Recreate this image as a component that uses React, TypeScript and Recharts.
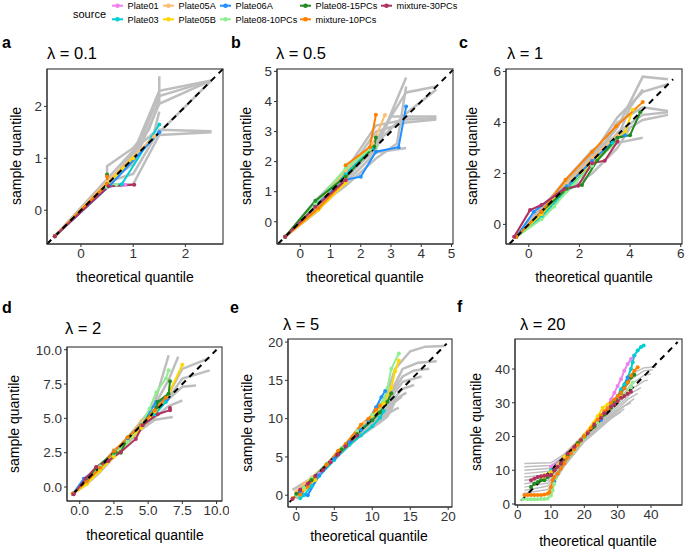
import React from 'react';
import { LineChart, Line, XAxis, YAxis, ReferenceLine } from 'recharts';

const SOURCES = ['Plate01', 'Plate03', 'Plate05A', 'Plate05B', 'Plate06A', 'Plate08-10PCs', 'Plate08-15PCs', 'mixture-10PCs', 'mixture-30PCs'];
const COLORS = ['#EE82EE', '#00CED1', '#FDBF6F', '#FFD700', '#1E90FF', '#90EE90', '#228B22', '#FF7F00', '#B03060'];

// ---------- panel a (lambda = 0.1) ----------
const aGray = [
  [[-0.5, -0.5], [0.5, 0.5], [0.5, 0.85], [1.0, 1.2], [1.3, 1.55], [1.5, 2.1], [1.5, 2.58]],
  [[-0.5, -0.5], [0.5, 0.5], [1.0, 1.1], [1.5, 2.3], [2.5, 2.5]],
  [[-0.5, -0.5], [0.5, 0.5], [1.0, 1.0], [1.5, 2.2], [2.5, 2.5]],
  [[-0.5, -0.5], [0.5, 0.5], [1.0, 0.9], [1.5, 2.05], [2.5, 2.5]],
  [[-0.5, -0.5], [0.5, 0.5], [1.0, 0.5], [1.5, 1.45], [2.5, 1.5]],
  [[-0.5, -0.5], [0.5, 0.5], [1.5, 1.5], [2.5, 2.5]],
  [[-0.5, -0.5], [0.5, 0.55], [1.0, 0.7], [1.5, 1.55], [2.5, 1.52]],
  [[-0.5, -0.5], [0.5, 0.6], [1.0, 1.15], [1.4, 1.5], [1.5, 1.9]],
];
const aSeries = [
  [[-0.5, -0.5], [0.5, 0.45], [0.85, 0.49]],
  [[-0.5, -0.5], [0.5, 0.45], [0.78, 0.5], [1.5, 1.65]],
  [[-0.5, -0.5], [0.5, 0.55], [1.4, 1.42]],
  [[-0.5, -0.5], [0.5, 0.5], [1.0, 1.0]],
  [[-0.5, -0.5], [0.55, 0.47], [1.5, 1.5]],
  [[-0.5, -0.5], [0.5, 0.45], [0.68, 0.49]],
  [[-0.5, -0.5], [0.5, 0.5], [0.5, 0.69]],
  [[-0.5, -0.5], [0.5, 0.5], [0.5, 0.65]],
  [[-0.5, -0.5], [0.53, 0.46], [1.02, 0.49]],
];

// ---------- panel b (lambda = 0.5) ----------
const bGray = [
  [[-0.5, -0.5], [0.5, 0.4], [1.5, 1.5], [2.5, 2.4], [3.5, 4.8]],
  [[-0.5, -0.5], [0.5, 0.6], [1.5, 1.6], [2.5, 2.7], [3.5, 4.3], [4.5, 4.5]],
  [[-0.5, -0.5], [0.5, 0.5], [1.5, 1.4], [2.5, 2.5], [3.0, 3.5], [4.5, 3.5]],
  [[-0.5, -0.5], [0.5, 0.7], [1.5, 1.7], [2.5, 3.2], [3.5, 3.4], [4.5, 3.45]],
  [[-0.5, -0.5], [0.5, 0.3], [1.5, 1.3], [2.5, 2.3], [3.5, 2.45]],
  [[-0.5, -0.5], [0.5, 0.5], [1.5, 1.5], [2.5, 2.6], [3.5, 3.6], [4.5, 4.4]],
  [[-0.5, -0.5], [0.5, 0.45], [1.5, 1.2], [2.5, 2.1], [3.2, 2.6], [3.5, 4.5]],
  [[-0.5, -0.5], [0.5, 0.55], [1.5, 1.55], [2.5, 3.0], [3.5, 3.3], [4.5, 3.4]],
];
const bSeries = [
  [[-0.5, -0.5], [0.5, 0.5], [1.5, 1.4]],
  [[-0.5, -0.5], [0.5, 0.5], [1.5, 1.6], [2.4, 2.45]],
  [[-0.5, -0.5], [0.5, 0.5], [1.5, 1.7], [2.4, 2.6], [2.8, 3.55]],
  [[-0.5, -0.5], [0.6, 0.4], [1.5, 1.3]],
  [[-0.5, -0.5], [0.5, 0.55], [1.5, 1.4], [2.0, 1.5], [2.5, 2.33], [3.25, 2.48], [3.5, 3.83]],
  [[-0.5, -0.5], [0.5, 0.6], [1.5, 1.78], [2.3, 2.4], [2.5, 2.5]],
  [[-0.5, -0.5], [0.5, 0.7], [1.5, 1.5], [2.45, 2.5], [2.5, 2.8]],
  [[-0.5, -0.5], [0.6, 0.45], [1.5, 1.4], [1.5, 1.88], [2.3, 2.48], [2.5, 3.56]],
  [[-0.5, -0.5], [0.5, 0.5], [1.5, 1.38]],
];

// ---------- panel c (lambda = 1) ----------
const cGray = [
  [[-0.5, -0.5], [0.5, 0.6], [1.5, 1.5], [2.5, 2.6], [3.5, 3.8], [4.5, 5.8], [5.5, 5.7]],
  [[-0.5, -0.5], [0.5, 0.4], [1.5, 1.7], [2.5, 2.7], [3.5, 4.2], [4.5, 5.2], [5.5, 5.5]],
  [[-0.5, -0.5], [0.5, 0.5], [1.5, 1.4], [2.5, 2.3], [3.5, 3.6], [4.5, 4.3], [5.5, 4.4]],
  [[-0.5, -0.5], [0.5, 0.7], [1.5, 1.6], [2.5, 2.5], [3.5, 3.2], [4.5, 3.4]],
  [[-0.5, -0.5], [0.5, 0.3], [1.5, 1.3], [2.5, 2.4], [3.5, 4.0], [4.5, 4.6], [5.5, 4.45]],
  [[-0.5, -0.5], [0.5, 0.5], [1.5, 1.5], [2.5, 2.8], [3.5, 3.4], [4.0, 4.6], [4.5, 5.3]],
  [[-0.5, -0.5], [0.5, 0.4], [1.5, 1.3], [2.5, 2.0], [3.5, 3.0], [4.0, 3.8]],
  [[-0.5, -0.5], [0.5, 0.6], [1.5, 1.8], [2.5, 2.9], [3.5, 3.5], [4.5, 4.1], [5.5, 4.3]],
];
const cSeries = [
  [[-0.5, -0.5], [0.5, 0.4], [1.5, 1.4], [2.5, 2.5]],
  [[-0.5, -0.5], [0.5, 0.3], [1.5, 1.4], [2.5, 2.4], [3.3, 3.2]],
  [[-0.5, -0.5], [0.5, 0.5], [1.5, 1.6], [2.5, 2.6], [3.5, 3.5]],
  [[-0.5, -0.5], [0.5, 0.4], [1.5, 1.5], [2.5, 2.4], [3.5, 3.4], [3.8, 3.6], [4.1, 4.5]],
  [[-0.5, -0.5], [0.2, 0.5], [1.5, 1.5], [2.5, 2.5], [3.5, 3.4], [3.8, 3.5]],
  [[-0.5, -0.5], [0.5, 0.2], [1.0, 0.7], [1.5, 1.3], [2.5, 2.3], [3.5, 3.3]],
  [[-0.5, -0.5], [0.5, 0.5], [1.5, 1.4], [2.1, 1.55], [2.7, 2.5], [3.5, 3.4], [4.0, 3.5], [4.4, 4.4]],
  [[-0.5, -0.5], [0.5, 0.5], [1.45, 1.75], [2.5, 2.85], [3.45, 3.85], [4.5, 4.8]],
  [[-0.58, -0.49], [0.05, 0.56], [0.5, 0.76], [1.4, 1.38], [1.95, 1.52], [2.5, 2.4], [3.0, 2.5], [3.5, 3.25]],
];

// ---------- panel d (lambda = 2) ----------
const dGray = [
  [[-0.5, -0.5], [0.5, 0.3], [1.5, 1.2], [2.5, 2.3], [3.5, 3.4], [4.5, 4.6], [5.5, 6.2], [6.5, 9.6]],
  [[-0.5, -0.5], [0.5, 0.5], [1.5, 1.4], [2.5, 2.5], [3.5, 3.6], [4.5, 4.8], [5.5, 6.0], [6.5, 7.8], [7.2, 9.5]],
  [[-0.5, -0.5], [0.5, 0.6], [1.5, 1.5], [2.5, 2.6], [3.5, 3.5], [4.5, 4.5], [5.5, 5.6], [6.5, 6.8], [7.5, 8.6], [9.5, 9.4]],
  [[-0.5, -0.5], [0.5, 0.4], [1.5, 1.3], [2.5, 2.4], [3.5, 3.4], [4.5, 4.4], [5.5, 5.4], [6.5, 6.5], [7.5, 7.9], [9.5, 8.5]],
  [[-0.5, -0.5], [0.5, 0.5], [1.5, 1.6], [2.5, 2.5], [3.5, 3.3], [4.5, 4.4], [5.5, 5.5], [6.5, 6.4], [7.5, 7.3], [8.5, 7.4]],
  [[-0.5, -0.5], [0.5, 0.2], [1.5, 1.1], [2.5, 2.2], [3.5, 3.2], [4.5, 4.2], [5.5, 5.1], [6.5, 5.9], [7.5, 6.3]],
  [[-0.5, -0.5], [0.5, 0.4], [1.5, 1.4], [2.5, 2.3], [3.5, 3.3], [4.5, 4.2], [5.5, 4.9], [6.8, 5.1]],
];
const dSeries = [
  [[-0.5, -0.5], [0.5, 0.3], [1.5, 1.4], [2.5, 2.5], [3.5, 3.4]],
  [[0.5, 0.5], [1.5, 1.3], [2.5, 2.4], [3.5, 3.3], [4.5, 4.4], [5.5, 5.3], [6.3, 6.2]],
  [[-0.5, -0.5], [0.5, 0.4], [1.5, 1.5], [2.5, 2.7], [3.5, 3.5], [4.5, 4.8]],
  [[-0.5, -0.5], [0.5, 0.2], [1.5, 1.2], [2.5, 2.2], [3.5, 3.3], [4.5, 4.3], [5.5, 5.5], [6.5, 6.8], [7.5, 8.9]],
  [[-0.5, -0.5], [0.3, 0.6], [1.5, 1.5], [2.5, 2.6], [3.5, 3.5], [4.5, 4.6], [5.6, 6.2], [6.4, 6.4]],
  [[-0.5, -0.5], [0.5, 0.5], [1.5, 1.5], [2.5, 2.4], [3.5, 3.3], [4.5, 4.6], [5.1, 5.7], [5.6, 6.9], [6.3, 7.9], [6.5, 8.5]],
  [[-0.5, -0.5], [0.5, 0.5], [1.2, 1.4], [2.5, 2.5], [3.0, 2.5], [3.5, 3.6], [4.5, 4.5], [5.6, 5.8], [5.7, 6.2], [6.5, 6.8], [6.6, 7.7]],
  [[-0.5, -0.5], [0.5, 0.4], [1.5, 1.4], [2.5, 2.6], [3.5, 3.6], [4.5, 4.5], [5.5, 5.6], [6.3, 6.5]],
  [[-0.44, -0.53], [0.4, 0.6], [1.2, 1.46], [2.1, 1.9], [3.0, 2.55], [4.1, 3.5], [4.6, 4.5], [5.7, 5.3], [6.6, 5.6], [6.6, 5.75]],
];

// ---------- panel e (lambda = 5) ----------
const eGray = [
  [[0, 0.5], [2, 2.2], [4, 4.1], [6, 6], [8, 8], [10, 10.3], [11, 11.5], [12, 13.5], [13, 16.5], [15, 18.8], [17, 19.4], [19.5, 19.5]],
  [[0, -0.5], [2, 1.8], [4, 3.9], [6, 5.8], [8, 7.8], [10, 9.8], [11, 11], [12, 12.5], [13, 14.5], [14, 16.5], [16, 17.3], [18.5, 17.5]],
  [[0, 0], [2, 2], [4, 4], [6, 6.1], [8, 8.1], [10, 10], [11, 11.2], [12, 12.5], [13, 14], [14, 15.5], [15.5, 16.3], [17.5, 16.5]],
  [[0, 0.2], [2, 2.1], [4, 4.1], [6, 5.9], [8, 7.9], [10, 9.6], [11, 10.6], [12, 11.8], [13, 13.5], [14, 14.8], [16.5, 15.5]],
  [[0, 0], [2, 1.9], [4, 3.8], [6, 5.8], [8, 7.7], [10, 9.4], [11, 10.2], [12, 11.5], [13, 12.8], [14, 13.9], [15.5, 14.4]],
  [[-0.5, 0.7], [2, 2.2], [4, 4.0], [6, 5.9], [8, 7.6], [10, 9.2], [11, 10.0], [12, 11.0], [13, 12.5], [14.5, 13.4]],
  [[0, 0], [2, 1.8], [4, 3.7], [6, 5.6], [8, 7.4], [10, 8.8], [11, 9.5], [12, 10.3], [13, 12.2], [13.9, 12.9]],
  [[0, 0.1], [2, 2.0], [4, 3.9], [6, 5.7], [8, 7.5], [10, 9.0], [11, 9.8], [12, 10.6], [13, 11.2], [13.5, 11.4]],
];
const eSeries = [
  [[0, 0.2], [1.5, 1.3], [3, 2.8], [4.5, 4.4], [6, 6.1]],
  [[0.5, -0.4], [1, 0], [2, 1.2], [3, 2.5], [5, 4.6], [7, 6.6], [8.5, 7.8], [10, 9.0], [11, 10.1], [11.5, 11]],
  [[0, 0.5], [1, 1.5], [2, 2.3], [4, 4], [6, 6], [8, 8.3], [9, 9.5]],
  [[1, 0.8], [2.5, 2], [4, 4], [6, 6.1], [8, 8.2], [10, 10.4], [11.5, 12], [12.5, 14], [13, 16.2], [13.5, 17.6]],
  [[0.5, 0.3], [1.5, 0], [3, 2.6], [5, 4.8], [7, 6.9], [8.5, 8.5], [9.5, 9.8], [10.5, 11.5], [11.2, 12.8], [11.7, 13.6]],
  [[0, 0], [1, 1], [2, 2.2], [4, 4.1], [6, 6.2], [8, 8.4], [10, 10.5], [11.5, 12.5], [12, 14], [12.5, 16.5], [13.5, 18.5]],
  [[0, 0.2], [2, 2], [4, 4], [6, 6], [8, 8], [10, 9.8], [11, 10.8], [12, 12.2], [12.5, 13.3]],
  [[-0.5, -0.4], [0.5, 0.1], [1.5, 1.1], [2.5, 2.4], [4, 4], [5.5, 5.8], [6.5, 6.7], [8.5, 9.2], [9.5, 10], [10.5, 11.2], [11, 11.7]],
  [[-0.5, -0.5], [0.5, 0.7], [1.5, 1.5], [2.5, 2.5], [3.5, 3.3], [4.5, 4.3], [5.5, 5.3], [6.5, 6.4], [8, 7.8]],
];

// ---------- panel f (lambda = 20) ----------
const fGray = [
  [[2, 12], [10, 12.2], [14, 14.8], [20, 20.7], [26, 27.3], [30, 32], [34, 38.5], [38, 40.4], [41.5, 40.6]],
  [[2, 11], [10, 11.4], [14, 14.3], [20, 20.3], [26, 26.8], [30, 31], [34, 37], [38, 39.5], [40.5, 39.8]],
  [[2, 10], [10, 10.6], [14, 13.9], [20, 20], [26, 26.2], [30, 30.2], [34, 35.5], [38, 38.2], [40, 38.5]],
  [[2, 9], [10, 9.8], [14, 13.5], [20, 19.8], [26, 25.8], [30, 29.5], [34, 34], [38, 36.5], [39, 36.7]],
  [[2, 8], [9, 8.6], [14, 13.1], [20, 19.6], [26, 25.3], [30, 28.8], [34, 32.8], [37, 34.5]],
  [[2, 7], [9, 7.8], [14, 12.7], [20, 19.4], [26, 24.9], [30, 28.1], [33, 31], [36, 32.8]],
  [[2, 6], [9, 7], [14, 12.3], [20, 19.2], [26, 24.5], [30, 27.6], [33, 29.8], [35, 31.2]],
  [[2, 5], [9, 6.2], [14, 11.9], [20, 19], [26, 24.2], [29, 26.8], [32, 29], [34, 30]],
  [[2, 4], [9, 5.3], [14, 11.5], [20, 18.8], [26, 23.9], [29, 26.3], [32, 28.2]],
  [[2, 3.2], [9, 4.3], [12, 8], [14, 11.2], [20, 18.5], [26, 23.6], [28, 25.3], [31, 27.3]],
];
const fSeries = [
  [[10, 11], [14, 14], [20, 20.5], [26, 27], [28, 31], [29, 33], [30, 35], [31, 37], [32, 39.5], [33, 41.5], [34, 43], [35, 44]],
  [[10, 10], [15, 15], [20, 20], [25, 25.5], [28, 29.5], [30, 32], [31, 34], [32, 35.5], [33, 37.5], [34, 40], [34.5, 42], [35, 44], [36, 45.5], [37, 46.5], [37.8, 47]],
  [[8, 7.5], [12, 11.5], [18, 18], [24, 25], [28, 29], [31, 31.5], [33, 33]],
  [[7, 8], [8, 8.5], [10, 9.5], [14, 14], [20, 20.5], [24, 26], [25.5, 28.5], [27, 29.5], [29, 30.5], [31, 32]],
  [[11, 6.6], [12, 9], [15, 14], [20, 20], [25, 25], [28, 29], [31, 33], [33, 37.5]],
  [[1.5, 1.4], [3, 1.4], [4, 1.4], [5, 1.4], [6, 1.4], [7, 1.5], [8, 1.5], [9, 1.6], [10, 2.5], [10.5, 4], [11, 6], [12, 9], [14, 12], [17, 16], [20, 19.5], [24, 24], [28, 28.5], [30, 30.5], [32, 32.5], [34, 34.5], [34.5, 36]],
  [[4, 5], [5, 6], [6, 6.5], [7, 7], [8, 7], [9, 8], [10, 8.5], [11, 10], [13, 12], [15, 14.5], [18, 18], [20, 20], [23, 23], [26, 26.5], [28, 28.5], [29, 30.5], [31, 33], [32, 34.3], [33, 36], [34, 37.5], [35, 38.3]],
  [[2, 2.7], [3, 2.7], [4, 2.7], [5, 2.7], [6, 2.7], [7, 2.7], [8, 2.8], [9, 3], [9.5, 3.5], [10, 5], [10.5, 7], [11, 8], [12, 9], [13, 10.5], [14, 12], [15, 13.8], [16, 15], [17, 16.2], [18, 17.5], [19, 18.8], [20, 20], [21, 21.3], [22, 22.5], [23, 23.8], [24, 25], [25, 26.3], [26, 27.5], [27, 28.3], [28, 30], [29, 31], [30, 32], [31, 33], [32, 34.3], [33, 36], [34, 38], [35, 39.5], [36, 40.5]],
  [[4, 7], [5, 7.5], [6, 8], [7, 8.2], [8, 8.4], [9, 8.5], [10, 8.6], [11, 10], [12, 11], [13, 12], [15, 15], [17, 17], [19, 19], [21, 21], [23, 23.5], [25, 25.5], [26, 26.9], [28, 28.8], [29, 29.5], [30, 30.5], [31, 31.5], [32, 32], [33, 32.7], [34, 33.3]],
];

const toPts = (arr: number[][]) => arr.map(([x, y]) => ({ x, y }));
const FONT = '"Liberation Sans", Arial, Helvetica, sans-serif';

type Box = { x: number; y: number; w: number; h: number };
type PanelProps = {
  box: Box;
  xDomain: [number, number];
  yDomain: [number, number];
  xTicks: number[];
  yTicks: number[];
  diag: [number, number];
  gray: number[][][];
  series: number[][][];
  grayWidth: number;
  fmt?: (v: number) => string;
  mr?: number;
};

function Panel({ box, xDomain, yDomain, xTicks, yTicks, diag, gray, series, grayWidth, fmt, mr }: PanelProps) {
  const ML = 45;
  const MT = 6;
  const MB = 30;
  const MR = mr ?? 6;
  const W = box.w + ML + MR;
  const H = box.h + MT + MB;
  const f = fmt || ((v: number) => String(v));
  const tickStyle = { fontSize: 13.5, fill: '#333' };
  return (
    <div style={{ position: 'absolute', left: box.x - ML, top: box.y - MT, width: W, height: H, overflow: 'hidden' }}>
      <LineChart width={W} height={H} margin={{ top: MT, right: MR, bottom: 0, left: 0 }}>
        <XAxis dataKey="x" type="number" domain={xDomain} ticks={xTicks} allowDataOverflow interval={0}
          tickSize={3} tickMargin={1} height={MB} stroke="#333" tick={tickStyle} tickFormatter={f} />
        <YAxis dataKey="y" type="number" domain={yDomain} ticks={yTicks} allowDataOverflow interval={0}
          tickSize={3} tickMargin={2} width={ML} stroke="#333" tick={tickStyle} tickFormatter={f} />
        {gray.map((g, i) => (
          <Line key={'g' + i} data={toPts(g)} dataKey="y" stroke="#BEBEBE" strokeWidth={grayWidth}
            dot={false} activeDot={false} isAnimationActive={false} />
        ))}
        {series.map((s, i) => (
          <Line key={SOURCES[i]} name={SOURCES[i]} data={toPts(s)} dataKey="y" stroke={COLORS[i]} strokeWidth={2}
            dot={{ r: 2, fill: COLORS[i], stroke: COLORS[i], strokeWidth: 0 }} activeDot={false} isAnimationActive={false} />
        ))}
        <ReferenceLine segment={[{ x: diag[0], y: diag[0] }, { x: diag[1], y: diag[1] }]} stroke="#000"
          strokeWidth={2} strokeDasharray="6 5" ifOverflow="visible" />
      </LineChart>
    </div>
  );
}

const legendCols = [112, 163, 220, 300, 381];
const boxes: Box[] = [
  { x: 47, y: 69, w: 176, h: 175 },
  { x: 277, y: 69, w: 176, h: 175 },
  { x: 506, y: 69, w: 176, h: 175 },
  { x: 67, y: 347, w: 155, h: 154 },
  { x: 288, y: 339, w: 164, h: 168 },
  { x: 515, y: 339, w: 167, h: 166 },
];

export default function App() {
  const fmt1 = (v: number) => v.toFixed(1);
  const letters = [
    { t: 'a', x: 2, y: 48 }, { t: 'b', x: 231, y: 48 }, { t: 'c', x: 459, y: 48 },
    { t: 'd', x: 2, y: 313 }, { t: 'e', x: 230, y: 313 }, { t: 'f', x: 457, y: 312 },
  ];
  const titles = [
    { t: 'λ = 0.1', x: 47, y: 59 }, { t: 'λ = 0.5', x: 276, y: 59 }, { t: 'λ = 1', x: 507, y: 59 },
    { t: 'λ = 2', x: 65, y: 334 }, { t: 'λ = 5', x: 283, y: 330 }, { t: 'λ = 20', x: 520, y: 330 },
  ];
  const xTitles = [
    { x: 135, y: 282 }, { x: 365, y: 282 }, { x: 594, y: 282 },
    { x: 145, y: 540 }, { x: 369, y: 541 }, { x: 598, y: 546 },
  ];
  const yTitles = [
    { x: 16, y: 156 }, { x: 246, y: 156 }, { x: 472, y: 156 },
    { x: 14, y: 424 }, { x: 247, y: 423 }, { x: 476, y: 422 },
  ];
  return (
    <div style={{ position: 'absolute', left: 0, top: 0, width: 685, height: 554, background: '#fff', fontFamily: FONT }}>
      <svg width={685} height={554} style={{ position: 'absolute', left: 0, top: 0 }}>
        <text x={73} y={17.5} fontSize={11} fill="#000">source</text>
        {SOURCES.map((s, i) => {
          const col = Math.floor(i / 2);
          const row = i % 2;
          const kx = legendCols[col];
          const ky = row === 0 ? 5.7 : 19.3;
          return (
            <g key={s}>
              <line x1={kx} x2={kx + 11} y1={ky} y2={ky} stroke={COLORS[i]} strokeWidth={2} />
              <circle cx={kx + 5.5} cy={ky} r={2.3} fill={COLORS[i]} />
              <text x={kx + 15.5} y={ky + 3.4} fontSize={9.2} fill="#000">{s}</text>
            </g>
          );
        })}
        {letters.map((l) => (
          <text key={l.t} x={l.x} y={l.y} fontSize={16} fontWeight="bold" fill="#000">{l.t}</text>
        ))}
        {titles.map((t) => (
          <text key={t.t} x={t.x} y={t.y} fontSize={16.5} fill="#000">{t.t}</text>
        ))}
        {xTitles.map((p, i) => (
          <text key={'xt' + i} x={p.x} y={p.y} fontSize={14} textAnchor="middle" fill="#000">theoretical quantile</text>
        ))}
        {yTitles.map((p, i) => (
          <text key={'yt' + i} transform={`translate(${p.x},${p.y}) rotate(-90)`} fontSize={14} textAnchor="middle"
            dominantBaseline="central" fill="#000">sample quantile</text>
        ))}
      </svg>
      <Panel box={boxes[0]} xDomain={[-0.65, 2.72]} yDomain={[-0.65, 2.72]}
        xTicks={[0, 1, 2]} yTicks={[0, 1, 2]} diag={[-0.65, 2.72]} gray={aGray} series={aSeries} grayWidth={2.5} />
      <Panel box={boxes[1]} xDomain={[-0.77, 5.05]} yDomain={[-0.74, 5.08]}
        xTicks={[0, 1, 2, 3, 4, 5]} yTicks={[0, 1, 2, 3, 4, 5]} diag={[-0.74, 5.05]} gray={bGray} series={bSeries} grayWidth={2.5} />
      <Panel box={boxes[2]} xDomain={[-0.9, 6.05]} yDomain={[-0.77, 6.1]}
        xTicks={[0, 2, 4, 6]} yTicks={[0, 2, 4, 6]} diag={[-0.77, 5.7]} gray={cGray} series={cSeries} grayWidth={2.5} mr={3} />
      <Panel box={boxes[3]} xDomain={[-0.93, 10.4]} yDomain={[-1.02, 10.2]}
        xTicks={[0, 2.5, 5, 7.5, 10]} yTicks={[0, 2.5, 5, 7.5, 10]} diag={[-0.5, 10]} gray={dGray} series={dSeries}
        grayWidth={2.5} fmt={fmt1} mr={7} />
      <Panel box={boxes[4]} xDomain={[-1.1, 20.5]} yDomain={[-1.54, 20.4]}
        xTicks={[0, 5, 10, 15, 20]} yTicks={[0, 5, 10, 15, 20]} diag={[-0.9, 19.8]} gray={eGray} series={eSeries} grayWidth={2.5} />
      <Panel box={boxes[5]} xDomain={[-0.8, 49.3]} yDomain={[-0.3, 48.9]}
        xTicks={[0, 10, 20, 30, 40]} yTicks={[0, 10, 20, 30, 40]} diag={[1, 48]} gray={fGray} series={fSeries}
        grayWidth={1.5} mr={3} />
      <svg width={685} height={554} style={{ position: 'absolute', left: 0, top: 0, pointerEvents: 'none' }}>
        {boxes.map((b, i) => (
          <rect key={'bx' + i} x={b.x} y={b.y} width={b.w} height={b.h} fill="none" stroke="#333" strokeWidth={1.1} />
        ))}
      </svg>
    </div>
  );
}
